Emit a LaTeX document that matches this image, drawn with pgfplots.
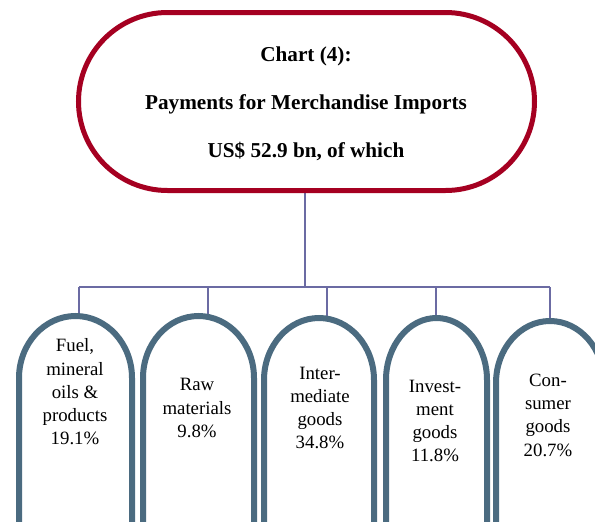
\documentclass[border=0pt]{standalone}
\usepackage{pgfplots}
\pgfplotsset{compat=1.18}
\usepackage{fontspec}
\setmainfont{Liberation Serif}
\definecolor{topred}{HTML}{A50021}
\definecolor{pillblue}{HTML}{4B6B80}
\definecolor{linkcol}{HTML}{6B6BA3}
\begin{document}
\begin{tikzpicture}
\useasboundingbox (0,0) rectangle (595pt,522pt);
\clip (0,0) rectangle (595pt,522pt);
\begin{axis}[
  at={(0,0)}, anchor=south west,
  scale only axis, width=595pt, height=522pt,
  xmin=0, xmax=595, ymin=0, ymax=522, y dir=reverse,
  enlargelimits=false, axis lines=none, clip=false,
]
% connectors
\draw[linkcol, line width=1.8pt] (axis cs:305,193) -- (axis cs:305,287);
\draw[linkcol, line width=1.8pt] (axis cs:79,287) -- (axis cs:550,287);
\draw[linkcol, line width=1.8pt] (axis cs:79,287) -- (axis cs:79,314);
\draw[linkcol, line width=1.8pt] (axis cs:208,287) -- (axis cs:208,314);
\draw[linkcol, line width=1.8pt] (axis cs:327,287) -- (axis cs:327,316);
\draw[linkcol, line width=1.8pt] (axis cs:436,287) -- (axis cs:436,316);
\draw[linkcol, line width=1.8pt] (axis cs:550,287) -- (axis cs:550,319);
% top pill
\draw[topred, line width=5pt, rounded corners=89pt, fill=white] (axis cs:78.5,12.5) rectangle (axis cs:534.5,190.5);
\node[font=\bfseries\fontsize{21.2}{24}\selectfont] at (axis cs:306,56) {Chart (4):};
\node[font=\bfseries\fontsize{21.2}{24}\selectfont] at (axis cs:306,104) {Payments for Merchandise Imports};
\node[font=\bfseries\fontsize{21.2}{24}\selectfont] at (axis cs:306,151) {US\$ 52.9 bn, of which};
% bottom pills (elliptic tops)
\draw[pillblue, line width=6pt] (axis cs:19,600) -- (axis cs:19,378) arc[start angle=180, end angle=0, x radius=56.5pt, y radius=62pt] -- (axis cs:132,600);
\draw[pillblue, line width=6pt] (axis cs:143,600) -- (axis cs:143,378) arc[start angle=180, end angle=0, x radius=55.5pt, y radius=62pt] -- (axis cs:254,600);
\draw[pillblue, line width=6pt] (axis cs:264,600) -- (axis cs:264,380) arc[start angle=180, end angle=0, x radius=55pt, y radius=62pt] -- (axis cs:374,600);
\draw[pillblue, line width=6pt] (axis cs:386,600) -- (axis cs:386,380) arc[start angle=180, end angle=0, x radius=50.5pt, y radius=62pt] -- (axis cs:487,600);
\draw[pillblue, line width=6pt] (axis cs:496,600) -- (axis cs:496,383) arc[start angle=180, end angle=0, x radius=54pt, y radius=62pt] -- (axis cs:604,600);
\tikzset{pilltext/.style={align=center, font=\fontsize{18.8}{23.3}\selectfont, inner sep=0pt}}
\node[pilltext] at (axis cs:75,392) {Fuel,\\mineral\\oils \&\\products\\19.1\%};
\node[pilltext] at (axis cs:197,408) {Raw\\materials\\9.8\%};
\node[pilltext] at (axis cs:320,408) {Inter-\\mediate\\goods\\34.8\%};
\node[pilltext] at (axis cs:435,421) {Invest-\\ment\\goods\\11.8\%};
\node[pilltext] at (axis cs:548,415) {Con-\\sumer\\goods\\20.7\%};
\end{axis}
\end{tikzpicture}
\end{document}
